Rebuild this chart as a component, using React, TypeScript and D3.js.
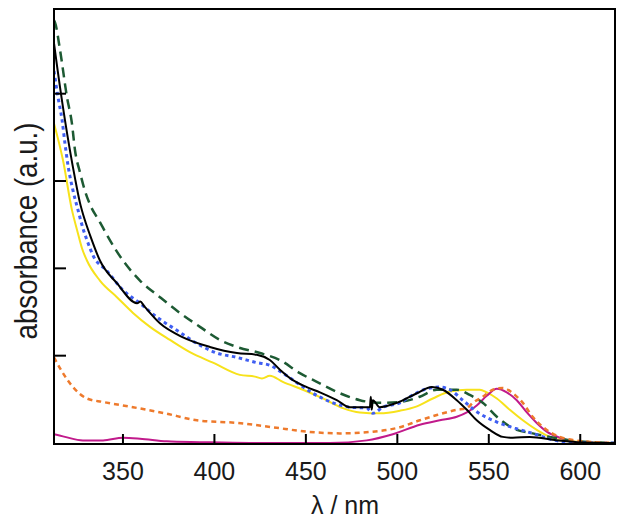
import * as d3 from "d3";

// wavelength (nm) / absorbance (a.u.)
const blackX = [312.3, 312.8, 323.8, 326.5, 329.2, 332.0, 337.4, 346.7, 357.7, 359.5, 361.5, 370.2, 382.8, 397.5, 412.3, 423.2, 430.3, 435.8, 442.9, 450.5, 457.7, 466.9, 474.0, 485.0, 485.5, 486.0, 486.6, 490.4, 499.7, 510.7, 518.9, 524.9, 532.5, 538.0, 543.4, 550.5, 557.7, 563.1, 572.4, 587.2, 598.1, 619];
const blackY = [4.58, 4.5, 3.03, 2.75, 2.55, 2.38, 2.09, 1.83, 1.6, 1.62, 1.57, 1.37, 1.21, 1.1, 1.03, 1.01, 0.95, 0.84, 0.72, 0.64, 0.58, 0.49, 0.41, 0.41, 0.53, 0.38, 0.49, 0.41, 0.46, 0.57, 0.64, 0.61, 0.49, 0.38, 0.26, 0.15, 0.07, 0.06, 0.07, 0.03, 0.01, 0];

const greenX = [312.3, 312.8, 315.6, 319.4, 322.1, 323.8, 326.5, 329.2, 332.0, 337.4, 341.3, 350.0, 359.3, 370.2, 381.1, 392.1, 403.0, 412.3, 424.9, 435.8, 446.7, 456.0, 468.6, 479.5, 490.4, 501.4, 512.3, 521.6, 532.5, 539.6, 546.7, 554.4, 563.1, 574.0, 583.3, 599.7, 619];
const greenY = [4.84, 4.82, 4.5, 3.96, 3.66, 3.35, 3.1, 2.89, 2.73, 2.53, 2.38, 2.09, 1.86, 1.67, 1.49, 1.33, 1.18, 1.1, 1.03, 0.95, 0.8, 0.7, 0.57, 0.49, 0.46, 0.47, 0.53, 0.61, 0.61, 0.55, 0.46, 0.3, 0.17, 0.11, 0.07, 0.02, 0];

const blueX = [312.3, 314.5, 316.7, 318.3, 320.1, 322.7, 325.4, 328.1, 330.9, 333.6, 341.3, 350.0, 359.3, 368.6, 379.5, 390.4, 401.4, 412.3, 423.2, 430.3, 437.4, 445.1, 453.8, 464.8, 474.0, 483.3, 486.6, 492.1, 501.4, 506.8, 516.1, 523.2, 528.7, 535.8, 544.0, 554.4, 564.2, 574.0, 586.1, 598.1, 619];
const blueY = [4.26, 3.96, 3.7, 3.43, 3.16, 2.89, 2.67, 2.46, 2.29, 2.15, 1.97, 1.75, 1.6, 1.44, 1.29, 1.14, 1.03, 0.98, 0.92, 0.89, 0.8, 0.69, 0.57, 0.46, 0.41, 0.4, 0.34, 0.41, 0.46, 0.53, 0.62, 0.64, 0.61, 0.49, 0.35, 0.24, 0.17, 0.11, 0.03, 0, 0];

const yellowX = [312.3, 317.2, 322.1, 324.9, 327.6, 330.3, 337.4, 346.7, 355.5, 364.8, 375.7, 386.6, 399.2, 413.9, 422.1, 426.0, 430.3, 437.4, 448.4, 459.3, 470.2, 479.5, 490.4, 501.4, 510.7, 519.4, 528.7, 538.0, 545.1, 548.9, 554.4, 561.5, 568.6, 576.2, 583.3, 594.3, 619];
const yellowY = [3.66, 3.24, 2.67, 2.44, 2.23, 2.09, 1.86, 1.67, 1.49, 1.33, 1.18, 1.04, 0.92, 0.78, 0.76, 0.74, 0.77, 0.7, 0.61, 0.51, 0.4, 0.35, 0.34, 0.37, 0.42, 0.51, 0.59, 0.61, 0.61, 0.58, 0.51, 0.38, 0.26, 0.15, 0.07, 0.02, 0];

const magentaX = [312.3, 318.3, 328.1, 339.1, 350.0, 359.3, 374.0, 392.1, 419.4, 463.1, 483.3, 497.5, 512.3, 523.2, 532.5, 538.0, 543.4, 548.9, 554.4, 559.8, 565.3, 570.8, 576.2, 581.7, 588.8, 598.1, 619];
const magentaY = [0.1, 0.07, 0.03, 0.03, 0.06, 0.05, 0.02, 0.01, 0, 0, 0.03, 0.1, 0.21, 0.26, 0.3, 0.35, 0.43, 0.54, 0.62, 0.58, 0.49, 0.35, 0.23, 0.13, 0.06, 0.01, 0];

const orangeX = [312.3, 317.2, 322.7, 330.3, 339.1, 355.5, 373.0, 390.4, 412.3, 432.0, 450.5, 468.6, 486.6, 501.4, 512.3, 521.6, 532.5, 538.0, 541.3, 546.7, 552.2, 557.7, 563.1, 568.6, 574.0, 581.7, 588.8, 597.0, 607.9, 619];
const orangeY = [0.98, 0.8, 0.64, 0.51, 0.47, 0.41, 0.34, 0.26, 0.23, 0.18, 0.13, 0.11, 0.13, 0.18, 0.26, 0.32, 0.38, 0.4, 0.46, 0.53, 0.61, 0.63, 0.57, 0.46, 0.3, 0.15, 0.07, 0.03, 0.01, 0];

const xTicks = [350, 400, 450, 500, 550, 600];
const yTicks = [1, 2, 3, 4];

const series = [
  { name: "yellow", xs: yellowX, ys: yellowY, color: "#f7e21b", width: 2, dash: "" },
  { name: "magenta", xs: magentaX, ys: magentaY, color: "#c11a8b", width: 2, dash: "" },
  { name: "green", xs: greenX, ys: greenY, color: "#1d5a33", width: 2.5, dash: "10,6" },
  { name: "blue", xs: blueX, ys: blueY, color: "#3f5ef2", width: 3, dash: "3.5,3.5" },
  { name: "orange", xs: orangeX, ys: orangeY, color: "#ee7a2c", width: 2.5, dash: "5,4" },
  { name: "black", xs: blackX, ys: blackY, color: "#000000", width: 2, dash: "" }
];

export default function App() {
  const width = 624;
  const height = 527;
  const left = 54, right = 615, top = 9, bottom = 444;

  const x = d3.scaleLinear([312.3, 619], [left, right]);
  const y = d3.scaleLinear([0, 4.97], [bottom - 1, top]);

  const line = d3.line<[number, number]>()
    .x(d => x(d[0]))
    .y(d => y(d[1]))
    .curve(d3.curveMonotoneX);

  const font = "'Liberation Sans', Arial, Helvetica, sans-serif";

  return (
    <svg width={width} height={height} style={{ position: "absolute", left: 0, top: 0 }}>
      <defs>
        <clipPath id="plot">
          <rect x={left} y={top} width={right - left} height={bottom - top} />
        </clipPath>
      </defs>
      <rect width={width} height={height} fill="#fff" />
      <g clipPath="url(#plot)" fill="none" strokeLinejoin="round">
        {series.map(s => (
          <path
            key={s.name}
            d={line(s.xs.map((v, i) => [v, s.ys[i]] as [number, number])) || ""}
            stroke={s.color}
            strokeWidth={s.width}
            strokeDasharray={s.dash || undefined}
          />
        ))}
      </g>
      <rect x={left} y={top} width={right - left} height={bottom - top} fill="none" stroke="#000" strokeWidth={2} />
      <g stroke="#000" strokeWidth={2}>
        {xTicks.map(t => (
          <line key={t} x1={x(t)} x2={x(t)} y1={bottom} y2={bottom - 10} />
        ))}
        {yTicks.map(t => (
          <line key={t} x1={left} x2={left + 12} y1={y(t)} y2={y(t)} />
        ))}
      </g>
      <g fontFamily={font} fontSize={25} fill="#1a1a1a" textAnchor="middle">
        {xTicks.map(t => (
          <text key={t} x={x(t)} y={480}>{t}</text>
        ))}
        <text x={345} y={514}>λ / nm</text>
        <text
          transform="translate(37,231) rotate(-90)"
          fontSize={31}
          textLength={217}
          lengthAdjust="spacingAndGlyphs"
        >absorbance (a.u.)</text>
      </g>
    </svg>
  );
}
